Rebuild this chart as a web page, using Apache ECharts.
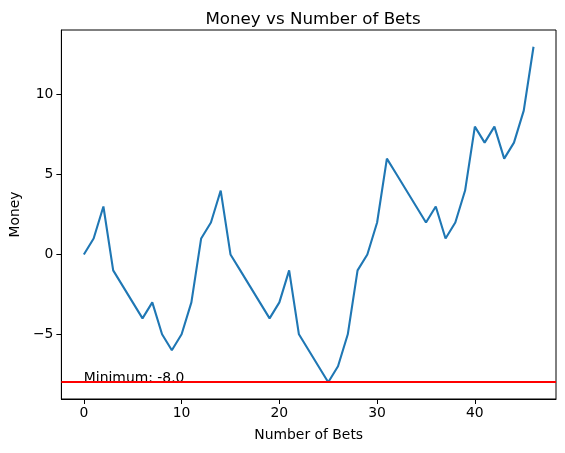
<!DOCTYPE html>
<html>
<head>
<meta charset="utf-8">
<script src="https://cdn.jsdelivr.net/npm/echarts@6/dist/echarts.min.js"></script>
<style>
  html, body { margin: 0; padding: 0; background: #fff; }
  #chart { width: 565px; height: 453px; }
</style>
</head>
<body>
<div id="chart"></div>
<script>
// money after each bet, bet number = index
const bets = [0, 1, 2, 3, 4, 5, 6, 7, 8, 9, 10, 11, 12, 13, 14, 15, 16, 17, 18, 19, 20,
  21, 22, 23, 24, 25, 26, 27, 28, 29, 30, 31, 32, 33, 34, 35, 36, 37, 38, 39, 40,
  41, 42, 43, 44, 45, 46];
const money = [0, 1, 3, -1, -2, -3, -4, -3, -5, -6, -5, -3, 1, 2, 4, 0, -1, -2, -3, -4, -3,
  -1, -5, -6, -7, -8, -7, -5, -1, 0, 2, 6, 5, 4, 3, 2, 3, 1, 2, 4, 8,
  7, 8, 6, 7, 9, 13];
const minimum = -8;
const xTicks = [0, 10, 20, 30, 40];
const yTicks = [-5, 0, 5, 10];

const font = 'DejaVu Sans';
const chart = echarts.init(document.getElementById('chart'));

chart.setOption({
  animation: false,
  title: {
    text: 'Money vs Number of Bets',
    left: 308, top: 6, textAlign: 'center',
    textStyle: { fontFamily: font, fontSize: 16.7, fontWeight: 'normal', color: '#000' }
  },
  grid: {
    left: 60, top: 30, width: 496, height: 369,
    show: true, borderColor: '#000', borderWidth: 1, backgroundColor: 'transparent'
  },
  xAxis: {
    type: 'value', min: -2.3, max: 48.3,
    name: 'Number of Bets', nameLocation: 'middle', nameGap: 29,
    nameTextStyle: { fontFamily: font, fontSize: 13.9, color: '#000' },
    axisLine: { show: true, onZero: false, lineStyle: { color: '#000', width: 1 } },
    splitLine: { show: false },
    axisTick: { show: true, customValues: xTicks, length: 5, lineStyle: { color: '#000' } },
    axisLabel: { customValues: xTicks, fontFamily: font, fontSize: 13.9, color: '#000', margin: 7 }
  },
  yAxis: {
    type: 'value', min: -9.05, max: 14.05,
    name: 'Money', nameLocation: 'middle', nameGap: 34,
    nameTextStyle: { fontFamily: font, fontSize: 13.9, color: '#000' },
    axisLine: { show: true, onZero: false, lineStyle: { color: '#000', width: 1 } },
    splitLine: { show: false },
    axisTick: { show: true, customValues: yTicks, length: 5, lineStyle: { color: '#000' } },
    axisLabel: {
      customValues: yTicks, fontFamily: font, fontSize: 13.9, color: '#000', margin: 8,
      formatter: v => String(v).replace('-', '\u2212')
    }
  },
  series: [
    {
      type: 'line',
      data: bets.map((b, i) => [b, money[i]]),
      showSymbol: false,
      lineStyle: { color: '#1f77b4', width: 2.1 },
      markLine: {
        silent: true, symbol: 'none', label: { show: false },
        lineStyle: { color: '#ff0000', width: 2, type: 'solid' },
        data: [{ yAxis: minimum }]
      },
      z: 2
    },
    {
      type: 'scatter',
      data: [[0, minimum]],
      symbolSize: 0,
      itemStyle: { opacity: 1 },
      label: {
        show: true, position: [0, 3], align: 'left', verticalAlign: 'bottom',
        formatter: 'Minimum: ' + minimum.toFixed(1),
        fontFamily: font, fontSize: 13.9, color: '#000', opacity: 1
      },
      z: 3
    }
  ]
});
</script>
</body>
</html>
